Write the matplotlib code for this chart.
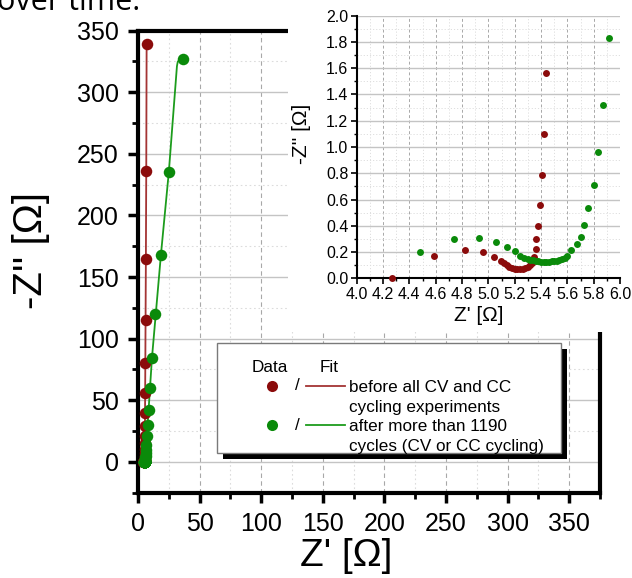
import matplotlib
matplotlib.use("Agg")
import matplotlib.pyplot as plt
from matplotlib.patches import Rectangle
from matplotlib.lines import Line2D
from matplotlib.ticker import MultipleLocator, FormatStrFormatter

plt.rcParams['font.family'] = ['Liberation Sans', 'DejaVu Sans']

# ---------------- data ----------------
# low-Z region (shown in inset and main plot)
red_inset_x = [4.265, 4.59, 4.82, 4.96, 5.045, 5.095, 5.12, 5.14, 5.16, 5.18, 5.20, 5.22, 5.24,
               5.26, 5.28, 5.30, 5.32, 5.335, 5.35, 5.36, 5.365, 5.375, 5.39, 5.41, 5.425, 5.435]
red_inset_y = [0.00, 0.173, 0.216, 0.198, 0.165, 0.135, 0.115, 0.10, 0.088, 0.078, 0.071, 0.068, 0.068,
               0.071, 0.077, 0.086, 0.10, 0.12, 0.165, 0.22, 0.30, 0.40, 0.56, 0.79, 1.10, 1.56]
green_inset_x = [4.48, 4.74, 4.93, 5.06, 5.143, 5.20, 5.24, 5.27, 5.30, 5.32, 5.34, 5.36, 5.38, 5.40,
                 5.42, 5.44, 5.46, 5.48, 5.50, 5.52, 5.54, 5.56, 5.58, 5.60, 5.63, 5.67, 5.70, 5.73,
                 5.76, 5.80, 5.83, 5.87, 5.92]
green_inset_y = [0.198, 0.297, 0.305, 0.277, 0.241, 0.206, 0.173, 0.158, 0.148, 0.141, 0.136, 0.132,
                 0.129, 0.127, 0.126, 0.126, 0.127, 0.128, 0.13, 0.134, 0.139, 0.146, 0.156, 0.17,
                 0.216, 0.26, 0.317, 0.406, 0.533, 0.71, 0.96, 1.32, 1.83]

# low-frequency tail (main plot only)
red_hi_x = [5.44, 5.45, 5.46, 5.48, 5.50, 5.53, 5.57, 5.62, 5.7, 5.8, 5.95, 6.15, 6.4, 6.7, 7.0]
red_hi_y = [2.3, 3.4, 5.0, 7.2, 10.5, 15, 21, 29, 40, 56, 80, 115, 165, 236, 339]
green_hi_x = [5.98, 6.05, 6.15, 6.3, 6.5, 6.8, 7.3, 7.8, 8.7, 9.7, 11.3, 13.8, 18.6, 25.0, 36.5]
green_hi_y = [2.6, 3.6, 5.0, 7.0, 10, 14, 20.6, 30, 42, 60, 84, 119.6, 168, 235, 326.5]

# fits
red_fit_x = [4.27, 5.22, 5.40, 5.50, 5.70, 5.95, 6.4, 6.7, 7.0]
red_fit_y = [0.0, 0.07, 0.6, 10.5, 40, 80, 165, 236, 339]
green_fit_x = [4.48, 5.43, 6.0, 7.8, 11.3, 18.6, 25.0, 31.6, 32.3, 34.0, 36.5]
green_fit_y = [0.2, 0.127, 2.6, 30, 84, 168, 235, 321, 324.8, 326.2, 326.5]

legend_header = ["Data", "Fit"]
legend_labels = [["before all CV and CC", "cycling experiments"],
                 ["after more than 1190", "cycles (CV or CC cycling)"]]

RED = '#8b0b0b'
GREEN = '#0a8a0a'
RED_FIT = '#a43434'
GREEN_FIT = '#1c9c1c'

W, H = 632, 578
fig = plt.figure(figsize=(W / 100, H / 100), dpi=100)


def fx(px):
    return px / W


def fy(py):
    return 1 - py / H


# ---------------- main axes ----------------
ax = fig.add_axes([fx(138), fy(492.7), fx(600) - fx(138), fy(30.5) - fy(492.7)])
ax.set_xlim(0, 375)
ax.set_ylim(-25, 350)

ax.plot(red_fit_x, red_fit_y, color=RED_FIT, lw=1.3, zorder=3)
ax.plot(green_fit_x, green_fit_y, color=GREEN_FIT, lw=1.3, zorder=3)
ax.plot(red_inset_x + red_hi_x, red_inset_y + red_hi_y, 'o', color=RED, ms=8.3, mec='none', zorder=4)
ax.plot(green_inset_x + green_hi_x, green_inset_y + green_hi_y, 'o', color=GREEN, ms=8.3, mec='none', zorder=5)

ax.set_yticks(range(0, 351, 50))
ax.set_xticks(range(0, 351, 50))
ax.xaxis.set_minor_locator(MultipleLocator(25))
ax.yaxis.set_minor_locator(MultipleLocator(25))

ax.grid(True, which='major', axis='y', color='#c4c4c4', lw=1.0, ls='-')
ax.grid(True, which='major', axis='x', color='#a8a8a8', lw=0.8, ls=(0, (4, 3)))
ax.grid(True, which='minor', color='#dcdcdc', lw=0.8, ls=(0, (1.5, 2.5)))
ax.set_axisbelow(True)

for s in ax.spines.values():
    s.set_linewidth(3)
ax.tick_params(which='major', direction='out', length=7, width=2.5, labelsize=18, pad=7)
ax.tick_params(which='minor', direction='out', length=4, width=2)
ax.tick_params(top=False, right=False, which='both')

ax.set_xlabel("Z' [Ω]", fontsize=28)
ax.xaxis.set_label_coords(0.45, -0.097)
ax.set_ylabel("-Z'' [Ω]", fontsize=29)
ax.yaxis.set_label_coords(-0.19, 0.525)

# ---------------- legend (drawn by hand) ----------------
fig.add_artist(Rectangle((fx(223), fy(459)), fx(567) - fx(223), fy(349) - fy(459),
                         transform=fig.transFigure, facecolor='black', edgecolor='none', zorder=2))
fig.add_artist(Rectangle((fx(217), fy(453)), fx(561) - fx(217), fy(343) - fy(453),
                         transform=fig.transFigure, facecolor='white', edgecolor='#7a7a7a', lw=1.0, zorder=2.1))
fig.text(fx(270), fy(367), legend_header[0], ha='center', va='center', fontsize=12.3, zorder=3)
fig.text(fx(329), fy(367), legend_header[1], ha='center', va='center', fontsize=12.3, zorder=3)
for i, (col, fcol) in enumerate([(RED, RED_FIT), (GREEN, GREEN_FIT)]):
    yc = 386 + i * 39
    fig.add_artist(Line2D([fx(271.5)], [fy(yc)], marker='o', ms=8, color=col, mec='none',
                          transform=fig.transFigure, zorder=3))
    fig.text(fx(297), fy(yc), "/", ha='center', va='center', fontsize=12.3, zorder=3)
    fig.add_artist(Line2D([fx(306), fx(345)], [fy(yc), fy(yc)], color=fcol, lw=1.3,
                          transform=fig.transFigure, zorder=3))
    for j, line in enumerate(legend_labels[i]):
        fig.text(fx(349), fy(yc + 20 * j), line, ha='left', va='center_baseline', fontsize=12.3,
                 zorder=3)

# ---------------- inset ----------------
fig.add_artist(Rectangle((fx(288), fy(332)), 1 - fx(288), fy(0) - fy(332),
                         transform=fig.transFigure, facecolor='white', edgecolor='none', zorder=1))

ins = fig.add_axes([fx(356.7), fy(278.3), fx(620) - fx(356.7), fy(15.7) - fy(278.3)], zorder=5)
ins.set_facecolor('white')
ins.set_xlim(4.0, 6.0)
ins.set_ylim(0.0, 2.0)
ins.plot(red_inset_x, red_inset_y, 'o', color=RED, ms=5, mec='none', zorder=4, clip_on=False)
ins.plot(green_inset_x, green_inset_y, 'o', color=GREEN, ms=5, mec='none', zorder=5, clip_on=False)
ins.xaxis.set_major_locator(MultipleLocator(0.2))
ins.xaxis.set_minor_locator(MultipleLocator(0.1))
ins.yaxis.set_major_locator(MultipleLocator(0.2))
ins.yaxis.set_minor_locator(MultipleLocator(0.1))
ins.xaxis.set_major_formatter(FormatStrFormatter('%.1f'))
ins.yaxis.set_major_formatter(FormatStrFormatter('%.1f'))
ins.grid(True, which='major', axis='y', color='#c4c4c4', lw=1.0, ls='-')
ins.grid(True, which='major', axis='x', color='#a8a8a8', lw=0.7, ls=(0, (3, 2.5)))
ins.grid(True, which='minor', color='#dedede', lw=0.7, ls=(0, (1.2, 2)))
ins.set_axisbelow(True)
ins.spines['top'].set_visible(False)
ins.spines['right'].set_visible(False)
ins.spines['left'].set_linewidth(1.5)
ins.spines['bottom'].set_linewidth(1.5)
ins.tick_params(which='major', direction='out', length=4, width=1.2, labelsize=11.5, pad=2)
ins.tick_params(which='minor', direction='out', length=2.5, width=1.0)
ins.set_xlabel("Z' [Ω]", fontsize=15)
ins.xaxis.set_label_coords(0.464, -0.105)
ins.set_ylabel("-Z'' [Ω]", fontsize=15)
ins.yaxis.set_label_coords(-0.175, 0.55)

# cropped caption text from the surrounding document
fig.text(-0.004, fy(10), "over time.", ha='left', va='baseline', fontsize=22,
         family=['Open Sans', 'DejaVu Sans'])

fig.savefig("out.png", dpi=100)
